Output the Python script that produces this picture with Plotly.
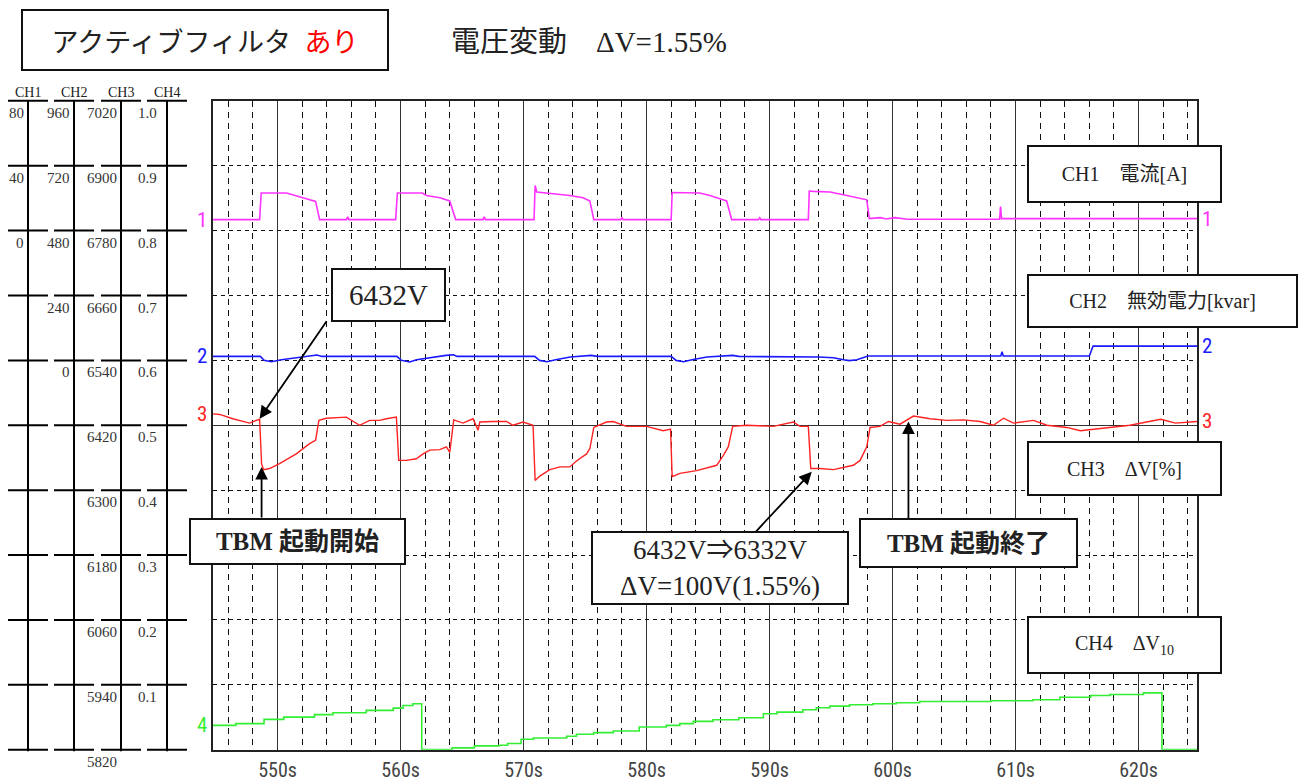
import plotly.graph_objects as go

W, H = 1305, 782
# frame of the recorder chart, in page pixels
PX_L, PX_R, PX_T, PX_B = 213, 1197, 101.5, 754.5

# ---------------- data ----------------
t_start, t_end = 544.75, 624.75

# CH1 current [A]
ch1_t = [544.75, 548.54, 548.67, 550.73, 552.06, 553.09, 553.42, 555.6, 555.7, 555.8,
         559.6, 559.74, 561.77, 562.1, 563.2, 564.0, 564.48, 566.7, 566.8, 566.9,
         570.85, 570.94, 571.07, 571.86, 573.76, 574.84, 575.39, 575.71, 577.9, 578.0, 578.1,
         582.0, 582.08, 584.33, 585.15, 585.96, 586.51, 586.92, 589.1, 589.2, 589.3,
         593.15, 593.23, 593.56, 594.92, 596.0, 597.09, 597.9, 598.11, 599.0, 599.5, 600.2,
         601.2, 608.7, 608.78, 608.86, 624.75]
ch1_a = [6.8, 6.8, 23.2, 23.2, 20.3, 18.0, 6.8, 6.8, 8.5, 6.8,
         6.8, 23.2, 23.2, 21.7, 20.3, 18.3, 6.8, 6.8, 8.5, 6.8,
         6.8, 27.8, 23.8, 23.2, 21.7, 20.3, 18.3, 6.8, 6.8, 8.0, 6.8,
         6.8, 23.5, 23.2, 21.7, 19.7, 18.3, 6.8, 6.8, 8.0, 6.8,
         6.8, 24.4, 24.2, 23.8, 22.1, 20.1, 19.0, 7.4, 8.0, 7.2, 8.0,
         7.0, 7.0, 14.9, 7.4, 7.4]

# CH2 reactive power [kvar]
ch2_t = [544.75, 548.6, 548.9, 549.5, 550.3, 551.5, 552.3, 553.2, 553.6,
         559.7, 560.06, 560.74, 561.3, 562.6, 563.7, 564.3, 564.6,
         570.9, 571.3, 571.9, 572.6, 573.8, 575.5, 576.0,
         582.0, 582.4, 583.0, 583.7, 584.9, 587.0, 587.5,
         594.0, 595.2, 596.0, 596.5, 597.1, 597.7, 598.0,
         608.8, 608.9, 609.0, 616.0, 616.3, 624.75]
ch2_kvar = [14.7, 14.7, 0.0, -4.8, 2.6, 9.9, 14.7, 19.9, 14.7,
            14.7, 0.0, -6.0, 2.6, 12.5, 18.4, 20.9, 14.7,
            14.7, 0.0, -5.0, 2.6, 12.5, 18.4, 14.7,
            14.7, 0.0, -4.8, 2.6, 12.5, 18.4, 14.7,
            12.5, 9.9, 2.6, -1.0, 2.6, 12.3, 16.2,
            16.2, 32.0, 16.2, 16.2, 52.9, 52.9]

# CH3 voltage [V]
ch3_t = [544.75, 545.3, 546.36, 547.18, 547.72, 548.4, 548.54, 548.7, 548.86, 549.35,
         550.16, 551.52, 551.79, 552.6, 553.09, 553.36, 553.96, 555.59, 556.67, 557.49,
         558.3, 558.84, 559.66, 559.85, 560.47, 561.28, 561.83, 562.37, 563.18, 563.73,
         564.0, 564.32, 565.08, 565.89, 566.3, 566.44, 567.52, 568.61, 569.15, 569.96,
         570.77, 570.94, 571.32, 572.13, 572.95, 573.76, 574.3, 575.12, 575.39, 575.71,
         576.74, 577.28, 578.37, 580.0, 581.35, 581.95, 582.08, 582.71, 584.07, 585.15,
         585.7, 586.23, 586.64, 587.0, 588.14, 590.3, 591.93, 592.47, 593.15, 593.35,
         594.1, 595.19, 596.27, 596.81, 597.36, 597.9, 598.17, 598.98, 599.66, 600.6,
         601.7, 603.05, 604.41, 605.76, 607.12, 608.2, 609.02, 609.83, 611.46, 612.55,
         614.17, 615.26, 616.9, 619.3, 621.8, 623.0, 624.75]
ch3_v = [6441, 6440, 6432, 6427, 6424, 6430, 6431, 6349, 6338, 6340,
         6349, 6367, 6372, 6386, 6392, 6429, 6433, 6435, 6420, 6429,
         6429, 6432, 6435, 6355, 6355, 6358, 6367, 6374, 6375, 6380,
         6370, 6430, 6424, 6432, 6411, 6426, 6427, 6427, 6420, 6426,
         6420, 6318, 6326, 6338, 6343, 6343, 6354, 6367, 6377, 6416,
         6426, 6427, 6418, 6418, 6410, 6413, 6325, 6331, 6336, 6343,
         6346, 6364, 6380, 6418, 6420, 6418, 6426, 6418, 6418, 6340,
         6340, 6338, 6343, 6346, 6355, 6380, 6416, 6418, 6427, 6422,
         6437, 6432, 6429, 6430, 6427, 6420, 6433, 6424, 6429, 6420,
         6416, 6410, 6414, 6420, 6431, 6424, 6427]

# CH4 dV10 [-]
ch4_t = [544.75, 546.6, 548.9, 550.5, 553.0, 554.5, 557.2, 559.4, 560.2, 561.0,
         561.72, 564.2, 566.0, 568.0, 568.7, 569.8, 570.8, 573.5, 574.3, 575.7,
         577.3, 579.4, 581.6, 582.7, 583.8, 585.4, 587.5, 589.5, 590.6, 592.7,
         593.8, 594.9, 596.5, 598.4, 600.3, 602.2, 608.0, 611.4, 613.6, 616.1,
         617.7, 620.4, 621.9, 624.75]
ch4_dv10 = [0.0375, 0.0401, 0.0467, 0.0502, 0.0540, 0.0570, 0.0605, 0.0640, 0.0681, 0.0708,
            0.0, 0.0028, 0.0058, 0.0069, 0.0095, 0.0161, 0.0181, 0.0207, 0.0237, 0.0263,
            0.0288, 0.0349, 0.0375, 0.0401, 0.0436, 0.0462, 0.0493, 0.0554, 0.0579, 0.0616,
            0.0646, 0.0671, 0.0692, 0.0708, 0.0723, 0.0743, 0.0755, 0.0769, 0.0809, 0.0835,
            0.0850, 0.0876, 0.0, 0.0]

# scale labels of the four channels (top division downward)
ch1_ticks = [80, 40, 0]
ch2_ticks = [960, 720, 480, 240, 0]
ch3_ticks = [7020, 6900, 6780, 6660, 6540, 6420, 6300, 6180, 6060, 5940, 5820]
ch4_ticks = [1.0, 0.9, 0.8, 0.7, 0.6, 0.5, 0.4, 0.3, 0.2, 0.1, 0.0]
channel_names = ["CH1", "CH2", "CH3", "CH4"]

# annotation points (time [s], voltage [V])
pt_before = (548.54, 6432)
pt_start = (548.7, 6343)
pt_drop = (593.43, 6334)
pt_end = (601.29, 6427)

# ---------------- helpers ----------------
def px(x):
    return x / W

def py(y):
    return 1 - y / H

NDIV = 10

def rng(ticks):
    step = ticks[0] - ticks[1]
    return [ticks[0] - NDIV * step, ticks[0]]

MAG, BLUE, RED, GREEN = "#ff33ff", "#1a1aff", "#ff2222", "#33ee33"
SERIF = "Liberation Serif, Noto Sans CJK JP, serif"
CJK = "Noto Sans CJK JP, sans-serif"
NARROW = "Liberation Sans Narrow, Roboto Condensed, Roboto, sans-serif"

fig = go.Figure()
fig.add_trace(go.Scatter(x=ch1_t, y=ch1_a, yaxis="y2", mode="lines",
                         line=dict(color=MAG, width=1.6), name="CH1"))
fig.add_trace(go.Scatter(x=ch2_t, y=ch2_kvar, yaxis="y3", mode="lines",
                         line=dict(color=BLUE, width=1.6), name="CH2"))
fig.add_trace(go.Scatter(x=ch3_t, y=ch3_v, yaxis="y4", mode="lines",
                         line=dict(color=RED, width=1.4), name="CH3"))
fig.add_trace(go.Scatter(x=ch4_t, y=ch4_dv10, yaxis="y5", mode="lines",
                         line=dict(color=GREEN, width=1.6, shape="hv"), name="CH4"))
# cursor markers
fig.add_trace(go.Scatter(x=[t_start], y=[5.18], mode="markers", cliponaxis=False,
                         marker=dict(symbol="triangle-down", size=14, color="#0000ee",
                                     line=dict(color="#000066", width=1))))
fig.add_trace(go.Scatter(x=[t_end], y=[5.18], mode="markers", cliponaxis=False,
                         marker=dict(symbol="triangle-down", size=14, color="#ff0000",
                                     line=dict(color="#660000", width=1))))

xdom = [px(PX_L), px(PX_R)]
ydom = [py(PX_B), py(PX_T)]

fig.update_layout(
    width=W, height=H, margin=dict(l=0, r=0, t=0, b=0),
    paper_bgcolor="white", plot_bgcolor="white", showlegend=False,
    xaxis=dict(domain=xdom, range=[t_start, t_end], dtick=10, tick0=550, ticksuffix="s",
               showgrid=True, gridcolor="#333333", gridwidth=1,
               minor=dict(dtick=2, tick0=550, showgrid=True, gridcolor="#111111",
                          griddash="6px,5px", gridwidth=1),
               zeroline=False, showline=True, mirror=True, linecolor="#222222", linewidth=1.5,
               ticks="", ticklabelstandoff=2,
               tickfont=dict(family=NARROW, size=20, color="#444444")),
    yaxis=dict(domain=ydom, range=[-5, 5], dtick=1, tick0=0, showgrid=True,
               gridcolor="#111111", griddash="4px,4px", gridwidth=1,
               zeroline=True, zerolinecolor="#333333", zerolinewidth=1.2,
               showticklabels=False, ticks="", showline=True, mirror=True,
               linecolor="#222222", linewidth=1.5),
    yaxis2=dict(overlaying="y", range=rng(ch1_ticks), visible=False),
    yaxis3=dict(overlaying="y", range=rng(ch2_ticks), visible=False),
    yaxis4=dict(overlaying="y", range=rng(ch3_ticks), visible=False),
    yaxis5=dict(overlaying="y", range=rng(ch4_ticks), visible=False),
)

shapes = []
ann = []

# ---------- left scale panel ----------
col_x = [28, 74, 121, 167]
label_right = [26, 72, 119, 159]
for cx in col_x:
    shapes.append(dict(type="line", xref="paper", yref="paper", x0=px(cx), x1=px(cx),
                       y0=ydom[0] - 1.5 / H, y1=ydom[1], line=dict(color="black", width=2)))
    for k in range(NDIV + 1):
        yk = ydom[1] - k * (ydom[1] - ydom[0]) / NDIV
        shapes.append(dict(type="line", xref="paper", yref="paper", x0=px(cx - 20), x1=px(cx + 20),
                           y0=yk, y1=yk, line=dict(color="black", width=2)))
for name, cx in zip(channel_names, col_x):
    ann.append(dict(text=name, xref="paper", yref="paper", x=px(cx), y=py(93),
                    xanchor="center", yanchor="middle", showarrow=False,
                    font=dict(family=SERIF, size=14, color="#222222")))
tick_sets = [(ch1_ticks, "y2", "{:g}"), (ch2_ticks, "y3", "{:g}"),
             (ch3_ticks, "y4", "{:g}"), (ch4_ticks, "y5", "{:.1f}")]
for (ticks, yref, fmt), xr in zip(tick_sets, label_right):
    for v in ticks:
        ann.append(dict(text=fmt.format(v), xref="paper", yref=yref, x=px(xr), y=v,
                        xanchor="right", yanchor="middle", yshift=-12, showarrow=False,
                        font=dict(family=SERIF, size=15, color="#333333")))

# ---------- channel numbers at both ends ----------
for num, (yv, yref, col) in enumerate([(ch1_a, "y2", MAG), (ch2_kvar, "y3", BLUE),
                                       (ch3_v, "y4", RED), (ch4_dv10, "y5", GREEN)], start=1):
    ann.append(dict(text=str(num), xref="paper", yref=yref, x=px(209), y=yv[0],
                    xanchor="right", yanchor="middle", showarrow=False,
                    font=dict(family=NARROW, size=21, color=col)))
    ann.append(dict(text=str(num), xref="paper", yref=yref, x=px(1200), y=yv[-1],
                    xanchor="left", yanchor="middle", showarrow=False,
                    font=dict(family=NARROW, size=21, color=col)))

# ---------- boxes ----------
def box(cx, cy, w, h, text, size, family=SERIF, bw=2):
    ann.append(dict(text=text, xref="paper", yref="paper", x=px(cx), y=py(cy),
                    xanchor="center", yanchor="middle", showarrow=False,
                    width=w - bw, height=h - bw, borderpad=0, align="center", valign="middle",
                    bordercolor="#111111", borderwidth=bw, bgcolor="white",
                    font=dict(family=family, size=size, color="#222222")))

box(205, 40, 366, 60,
    "アクティブフィルタ\u2002<span style='color:#ff0000'>あり</span>", 27, family=CJK)
ann.append(dict(text="電圧変動　ΔV=1.55%", xref="paper", yref="paper", x=px(449), y=py(42),
                xanchor="left", yanchor="middle", showarrow=False,
                font=dict(family=SERIF, size=29, color="#222222")))

box(1124.5, 175, 193, 56, "CH1　電流[A]", 20)
box(1162.5, 303, 269, 52, "CH2　無効電力[kvar]", 20)
box(1124.5, 471.5, 193, 53, "CH3　ΔV[%]", 20)
box(1124.5, 649, 193, 56, "CH4　ΔV<sub>10</sub>", 20)

# arrows from the callout boxes to the CH3 trace
def arrow(pt, dx, dy):
    ann.append(dict(text="", x=pt[0], y=pt[1], xref="x", yref="y4", ax=dx, ay=dy,
                    showarrow=True, arrowhead=2, arrowsize=1.4, arrowwidth=1.8,
                    arrowcolor="black"))

arrow(pt_before, 68, -99)
arrow(pt_start, 0, 52)
arrow(pt_drop, -57, 61)
arrow(pt_end, 0, 98)

box(388.5, 296.5, 113, 52, "6432V", 29)
box(297.5, 544.5, 215, 45, "<b>TBM 起動開始</b>", 25)
box(720, 572, 256, 72, "6432V⇒6332V<br>ΔV=100V(1.55%)", 27)
box(968.5, 546, 217, 48, "<b>TBM 起動終了</b>", 25)

fig.update_layout(shapes=shapes, annotations=ann)
fig.write_html("out.html", config={"displayModeBar": False},
               post_script="document.body.style.margin='0px';")
